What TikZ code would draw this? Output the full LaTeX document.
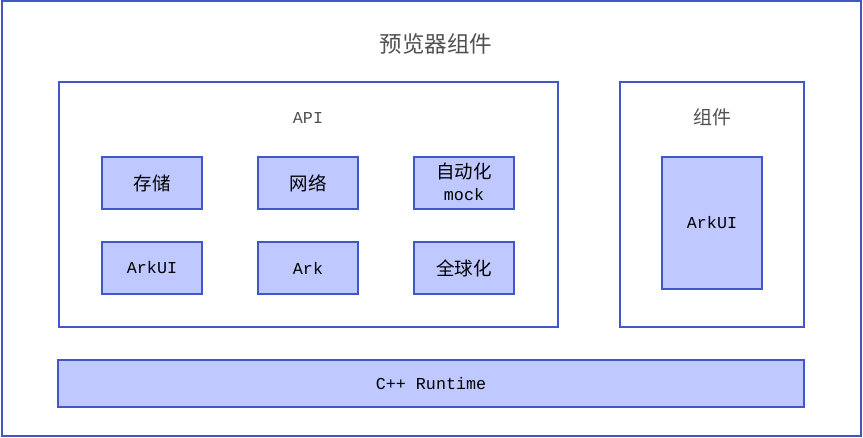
\documentclass[tikz,border=0pt]{standalone}
\usepackage{fontspec}
\setmainfont{Liberation Mono}
\newfontfamily\cjk{Noto Sans CJK SC}
\definecolor{edge}{HTML}{3F57C8}
\definecolor{fillb}{HTML}{BFC8FF}
\definecolor{titlec}{HTML}{505050}
\begin{document}
\begin{tikzpicture}[x=1pt,y=-1pt,
  frame/.style={draw=edge,line width=1.2pt},
  blk/.style={draw=edge,fill=fillb,line width=1.2pt},
  lbl/.style={font=\fontsize{16.7}{18}\selectfont,text=black,align=center,inner sep=0pt},
  ttl/.style={text=titlec,inner sep=0pt}]
\useasboundingbox (0,0) rectangle (863,438);
\draw[frame] (2,1) rectangle (861,436);
\node[ttl,font=\cjk\fontsize{22.5}{24}\selectfont] (title) at (436,44) {预览器组件};
\draw[frame] (59,82) rectangle (558,327);
\node[ttl,font=\fontsize{16.7}{18}\selectfont] (api) at (308,118) {API};
\draw[frame] (620,82) rectangle (804,327);
\node[ttl,font=\cjk\fontsize{19}{21}\selectfont] (zj) at (712,117) {组件};
\draw[blk] (102,157) rectangle (202,209);
\node[lbl,font=\cjk\fontsize{18.5}{20}\selectfont] (cc) at (152,183) {存储};
\draw[blk] (258,157) rectangle (358,209);
\node[lbl,font=\cjk\fontsize{18.5}{20}\selectfont] (wl) at (308,183) {网络};
\draw[blk] (414,157) rectangle (514,209);
\node[lbl,font=\fontsize{16.7}{22}\selectfont] (zdh) at (464,182) {{\cjk\fontsize{18.5}{22}\selectfont 自动化}\\mock};
\draw[blk] (102,242) rectangle (202,294);
\node[lbl] (arkui1) at (152,268) {ArkUI};
\draw[blk] (258,242) rectangle (358,294);
\node[lbl] (ark) at (308,268) {Ark};
\draw[blk] (414,242) rectangle (514,294);
\node[lbl,font=\cjk\fontsize{18.5}{20}\selectfont] (qqh) at (464,268) {全球化};
\draw[blk] (662,157) rectangle (762,289);
\node[lbl] (arkui2) at (712,223) {ArkUI};
\draw[blk] (58,360) rectangle (804,407);
\node[lbl] (rt) at (431,384) {C++ Runtime};
\end{tikzpicture}
\end{document}
